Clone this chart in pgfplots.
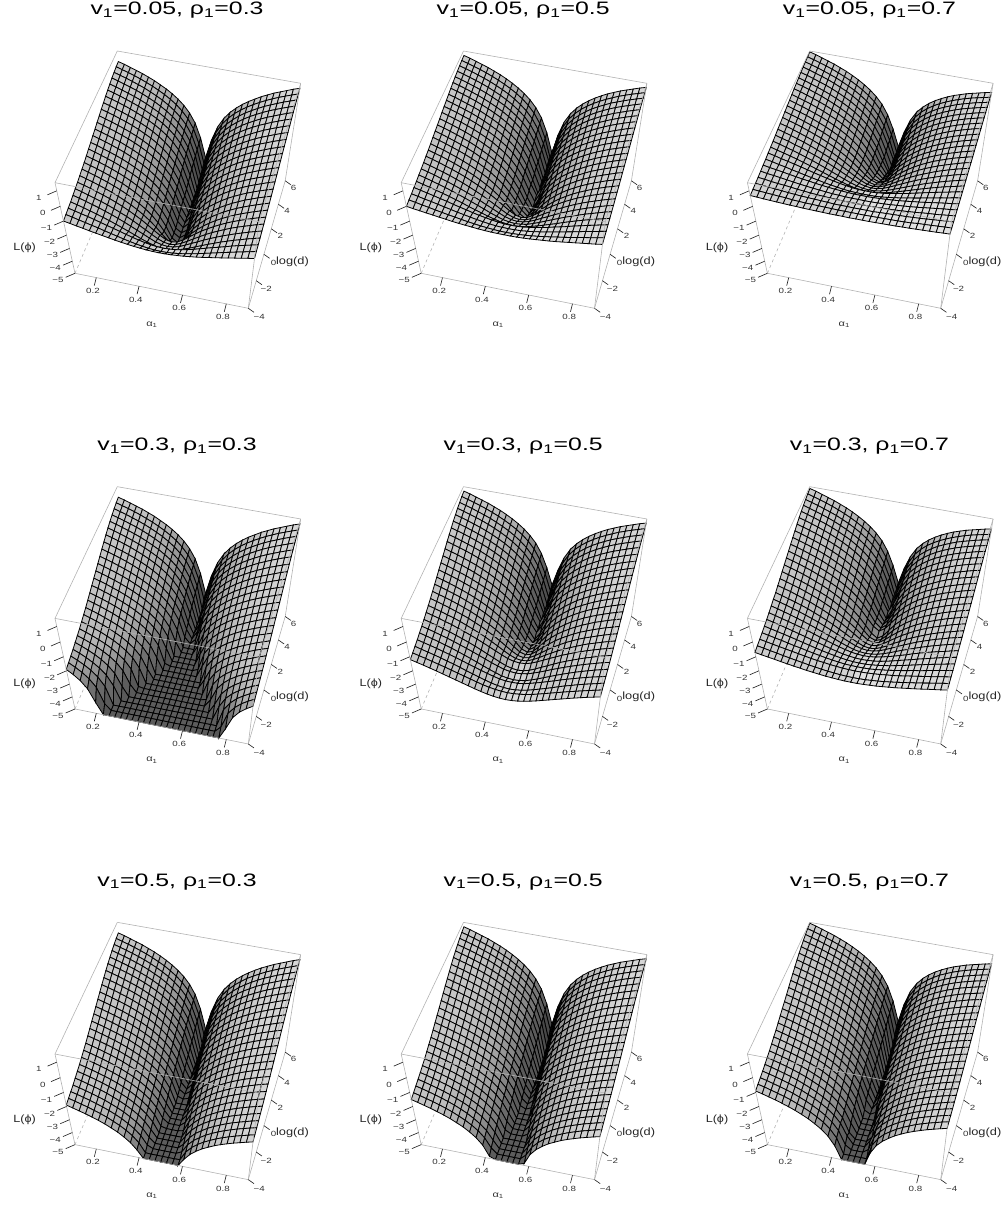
\documentclass[border=0pt]{standalone}
\usepackage{graphicx}
\usepackage{pgfplots}
\usepackage{pgfplotstable}
\usepackage{fontspec}
\setmainfont{Liberation Sans}
\pgfplotsset{compat=1.18}
% z values in hundredths; rows log(d)=6 ... -4 (step 0.4), columns alpha=0.1 ... 0.5 (step 0.8/30); floor -5
\pgfplotstableread[header=false]{
90 80 68 56 44 29 14 -5 -24 -47 -74 -107 -150 -210 -304 -438
87 76 65 53 40 25 9 -9 -29 -52 -79 -113 -156 -217 -312 -448
82 71 60 47 34 20 3 -15 -35 -59 -87 -121 -164 -226 -322 -460
77 66 54 42 29 14 -3 -21 -42 -66 -94 -128 -173 -235 -333 -472
70 59 47 34 21 6 -11 -30 -50 -75 -103 -138 -183 -246 -345 -486
63 52 40 27 13 -2 -19 -38 -59 -83 -112 -147 -193 -257 -357 -500
55 44 32 19 5 -11 -28 -47 -68 -93 -122 -158 -204 -269 -370 -500
46 35 22 9 -5 -20 -38 -57 -79 -104 -134 -170 -216 -282 -385 -500
37 25 13 -1 -14 -30 -48 -68 -89 -115 -145 -181 -229 -295 -399 -500
27 15 3 -11 -25 -41 -59 -79 -101 -127 -157 -194 -242 -309 -414 -500
18 6 -7 -20 -35 -51 -69 -89 -111 -138 -168 -205 -251 -318 -414 -500
8 -4 -17 -31 -45 -62 -80 -100 -123 -149 -180 -217 -265 -332 -429 -500
-1 -13 -26 -40 -55 -71 -90 -111 -133 -160 -192 -229 -277 -345 -443 -500
-11 -23 -37 -51 -66 -82 -101 -122 -145 -172 -204 -242 -290 -359 -458 -500
-20 -32 -46 -60 -75 -92 -111 -132 -155 -183 -215 -253 -302 -372 -472 -500
-30 -43 -56 -70 -86 -103 -122 -143 -167 -195 -225 -264 -314 -379 -470 -500
-39 -52 -65 -80 -95 -113 -132 -154 -177 -206 -236 -274 -322 -387 -470 -500
-47 -60 -74 -88 -104 -121 -140 -161 -185 -212 -243 -280 -326 -383 -446 -484
-55 -68 -81 -96 -111 -128 -147 -168 -191 -217 -247 -281 -320 -367 -410 -427
-63 -75 -88 -103 -118 -134 -152 -172 -194 -218 -243 -273 -304 -334 -358 -368
-70 -82 -96 -110 -124 -140 -158 -177 -197 -219 -244 -269 -295 -319 -337 -344
-77 -89 -102 -116 -130 -146 -162 -180 -199 -219 -240 -261 -282 -302 -314 -319
-84 -96 -108 -122 -135 -150 -165 -182 -199 -217 -235 -254 -270 -285 -294 -297
-89 -100 -111 -122 -134 -147 -160 -172 -185 -198 -211 -222 -232 -240 -245 -247
-94 -104 -115 -125 -136 -146 -158 -169 -180 -191 -201 -210 -218 -224 -228 -229
-100 -108 -117 -125 -134 -142 -150 -158 -166 -173 -179 -185 -189 -193 -195 -196
}\Tone
\pgfplotstableread[header=false]{
125 115 103 91 79 64 49 31 11 -12 -39 -72 -115 -175 -269 -403
123 112 101 89 76 61 45 27 7 -16 -43 -77 -120 -181 -276 -412
120 109 98 85 72 58 41 23 3 -21 -49 -82 -126 -188 -279 -395
116 105 93 81 68 53 36 18 -3 -27 -55 -88 -133 -196 -288 -406
112 101 89 76 63 48 31 12 -8 -33 -61 -95 -140 -204 -297 -417
107 96 84 71 57 42 25 6 -15 -39 -68 -103 -148 -213 -307 -428
102 91 79 66 52 36 19 0 -21 -46 -75 -110 -155 -218 -309 -407
96 85 72 59 45 30 12 -7 -29 -54 -84 -119 -164 -228 -321 -419
90 78 66 53 39 23 5 -15 -36 -62 -92 -127 -173 -238 -332 -431
84 72 60 46 32 16 -2 -22 -44 -70 -98 -134 -181 -242 -327 -401
78 66 53 40 25 9 -9 -29 -51 -78 -106 -143 -190 -252 -338 -412
71 59 46 32 18 1 -17 -37 -60 -86 -116 -153 -200 -263 -350 -425
65 53 40 26 11 -5 -24 -45 -67 -94 -123 -159 -206 -267 -347 -407
59 47 33 19 4 -12 -31 -52 -73 -99 -130 -166 -212 -271 -341 -388
53 41 27 13 -2 -18 -37 -57 -81 -106 -137 -172 -217 -272 -333 -370
46 33 21 6 -9 -26 -44 -65 -87 -113 -143 -178 -220 -271 -321 -350
40 27 15 0 -15 -32 -50 -70 -93 -118 -147 -181 -219 -265 -308 -324
35 23 10 -5 -19 -35 -52 -72 -93 -117 -142 -170 -201 -230 -254 -263
29 17 4 -10 -24 -40 -57 -76 -96 -117 -141 -165 -191 -215 -232 -239
24 12 0 -15 -28 -44 -60 -77 -95 -115 -136 -156 -177 -196 -208 -213
20 9 -4 -17 -30 -45 -60 -76 -93 -110 -128 -146 -162 -177 -185 -189
15 3 -8 -20 -32 -45 -59 -73 -89 -103 -117 -131 -143 -154 -160 -163
11 1 -9 -19 -30 -40 -52 -63 -73 -84 -94 -102 -110 -116 -120 -121
7 -2 -12 -20 -30 -40 -49 -59 -67 -76 -84 -91 -97 -102 -104 -105
4 -4 -13 -21 -30 -38 -46 -53 -61 -68 -74 -80 -84 -88 -90 -91
0 -7 -13 -19 -25 -31 -37 -43 -48 -52 -56 -60 -63 -65 -66 -66
}\Ttwo
\pgfplotstableread[header=false]{
145 135 123 111 99 84 69 51 31 8 -19 -52 -94 -155 -244 -357
144 133 122 110 97 82 66 48 28 5 -22 -55 -98 -160 -250 -364
142 131 120 107 94 80 63 45 25 1 -27 -60 -104 -166 -257 -373
140 129 117 105 92 77 60 42 21 -3 -31 -64 -107 -168 -256 -350
137 126 114 101 88 73 56 37 17 -8 -36 -70 -113 -175 -264 -359
134 123 111 98 84 69 52 33 12 -12 -41 -76 -120 -182 -272 -368
131 120 108 95 81 65 48 29 8 -17 -45 -80 -124 -183 -265 -336
128 117 104 91 77 62 44 25 3 -22 -49 -84 -127 -185 -261 -317
124 112 100 87 73 57 39 21 -1 -25 -54 -88 -132 -187 -254 -298
120 108 96 82 68 53 35 16 -6 -30 -59 -92 -135 -187 -245 -279
117 105 93 80 65 49 32 12 -9 -33 -62 -95 -134 -182 -230 -257
113 101 89 75 61 45 28 9 -13 -37 -64 -96 -132 -175 -216 -231
109 97 85 72 57 41 25 5 -15 -39 -65 -95 -127 -162 -191 -204
105 94 81 67 53 38 21 3 -17 -40 -64 -91 -120 -148 -171 -180
102 90 78 65 51 36 19 1 -17 -38 -61 -84 -109 -131 -148 -154
98 86 75 61 49 33 18 2 -16 -35 -55 -75 -95 -113 -124 -129
94 83 71 59 46 32 18 2 -14 -31 -48 -65 -81 -94 -103 -106
91 80 69 58 46 33 20 6 -8 -22 -36 -49 -61 -71 -76 -79
88 79 68 59 49 39 28 17 7 -3 -12 -21 -28 -34 -38 -38
84 76 66 58 48 39 30 21 13 4 -3 -10 -16 -20 -22 -23
82 74 68 61 54 47 40 35 28 23 18 14 11 8 6 6
79 72 67 61 55 49 43 38 33 29 25 21 19 17 16 16
76 71 65 60 57 52 47 43 39 36 33 31 29 27 27 27
74 70 66 62 58 54 51 48 46 44 42 40 37 37 37 36
72 69 66 63 60 58 53 51 49 48 47 46 45 44 44 44
70 68 65 63 61 59 57 56 54 53 52 51 50 50 50 49
}\Tthree
\pgfplotstableread[header=false]{
90 80 68 56 44 29 14 -5 -24 -47 -74 -107 -150 -210 -304 -438
85 74 63 51 38 23 7 -11 -31 -54 -81 -115 -158 -219 -314 -450
78 67 56 43 30 16 -1 -19 -39 -63 -91 -125 -168 -230 -326 -490
70 59 47 35 22 7 -10 -28 -49 -73 -101 -135 -180 -243 -340 -500
60 49 37 24 11 -4 -21 -40 -60 -85 -113 -148 -193 -256 -355 -500
50 39 27 14 0 -15 -32 -51 -72 -96 -125 -161 -207 -272 -372 -500
38 27 15 2 -12 -28 -45 -64 -85 -110 -139 -175 -222 -288 -390 -500
25 14 1 -12 -26 -41 -59 -78 -100 -125 -155 -191 -238 -305 -420 -500
12 0 -12 -25 -39 -55 -73 -93 -114 -140 -171 -207 -255 -323 -435 -500
-2 -14 -26 -40 -54 -70 -88 -108 -130 -156 -187 -224 -273 -341 -458 -500
-16 -28 -41 -54 -69 -85 -104 -124 -146 -173 -205 -243 -295 -373 -500 -500
-30 -42 -55 -69 -84 -101 -119 -140 -163 -191 -224 -266 -324 -426 -500 -500
-44 -56 -69 -84 -99 -116 -135 -156 -181 -210 -245 -290 -357 -500 -500 -500
-58 -70 -84 -98 -114 -132 -151 -173 -199 -230 -268 -319 -406 -500 -500 -500
-72 -85 -99 -114 -130 -148 -168 -191 -219 -251 -294 -354 -485 -500 -500 -500
-86 -100 -113 -129 -145 -164 -186 -210 -240 -277 -326 -410 -500 -500 -500 -500
-100 -114 -128 -145 -162 -181 -204 -230 -263 -304 -365 -500 -500 -500 -500 -500
-112 -126 -141 -158 -176 -198 -221 -251 -288 -338 -427 -500 -500 -500 -500 -500
-124 -139 -155 -172 -192 -214 -241 -274 -317 -385 -500 -500 -500 -500 -500 -500
-136 -152 -168 -188 -208 -234 -265 -304 -363 -492 -500 -500 -500 -500 -500 -500
-146 -162 -180 -201 -225 -253 -290 -343 -441 -500 -500 -500 -500 -500 -500 -500
-156 -174 -194 -217 -245 -281 -332 -424 -500 -500 -500 -500 -500 -500 -500 -500
-166 -185 -208 -235 -268 -312 -387 -500 -500 -500 -500 -500 -500 -500 -500 -500
-174 -196 -221 -252 -294 -358 -500 -500 -500 -500 -500 -500 -500 -500 -500 -500
-182 -207 -236 -275 -331 -454 -500 -500 -500 -500 -500 -500 -500 -500 -500 -500
-190 -219 -255 -309 -410 -500 -500 -500 -500 -500 -500 -500 -500 -500 -500 -500
}\Tfour
\pgfplotstableread[header=false]{
125 115 103 91 79 64 49 31 11 -12 -39 -72 -114 -175 -264 -377
121 110 99 87 74 59 43 25 5 -18 -45 -78 -121 -183 -273 -387
114 103 92 79 66 52 35 17 -3 -27 -55 -88 -132 -194 -285 -401
108 97 85 73 60 45 28 10 -11 -35 -63 -96 -141 -204 -296 -414
99 88 76 63 50 35 18 -1 -21 -46 -74 -108 -153 -217 -310 -430
90 79 67 54 40 25 8 -11 -32 -56 -85 -120 -164 -226 -316 -412
79 68 56 43 29 13 -4 -23 -44 -69 -98 -133 -178 -241 -332 -430
68 57 44 31 17 2 -16 -35 -57 -82 -110 -145 -190 -250 -333 -405
57 45 33 20 6 -10 -28 -48 -69 -95 -123 -159 -204 -265 -349 -422
44 32 20 6 -8 -24 -42 -62 -84 -110 -137 -173 -217 -277 -354 -412
32 20 7 -6 -21 -37 -55 -75 -97 -124 -152 -187 -232 -293 -371 -430
20 8 -5 -19 -33 -50 -68 -88 -109 -135 -165 -200 -245 -303 -371 -417
8 -4 -17 -31 -46 -62 -80 -100 -123 -148 -177 -212 -256 -309 -370 -405
-5 -17 -30 -44 -59 -75 -93 -113 -135 -161 -190 -224 -265 -315 -364 -392
-17 -29 -42 -56 -70 -87 -105 -125 -147 -172 -200 -233 -271 -315 -357 -373
-29 -42 -54 -68 -83 -99 -116 -136 -158 -182 -209 -240 -273 -309 -340 -353
-41 -53 -66 -80 -95 -110 -127 -147 -167 -191 -216 -244 -274 -303 -327 -336
-52 -64 -77 -91 -104 -120 -138 -156 -175 -196 -220 -244 -270 -293 -311 -317
-62 -74 -86 -100 -113 -129 -145 -162 -180 -200 -220 -241 -261 -280 -292 -296
-73 -85 -97 -112 -125 -141 -157 -174 -192 -212 -233 -253 -274 -293 -305 -310
-82 -93 -106 -119 -132 -147 -162 -178 -195 -212 -230 -248 -264 -279 -287 -291
-90 -102 -114 -127 -141 -155 -171 -187 -204 -222 -240 -258 -274 -289 -297 -301
-99 -111 -122 -134 -147 -160 -174 -188 -204 -218 -233 -246 -259 -270 -276 -278
-106 -118 -130 -141 -154 -168 -181 -196 -212 -227 -241 -255 -268 -278 -284 -287
-113 -124 -135 -147 -159 -171 -184 -197 -210 -223 -236 -248 -258 -265 -270 -272
-120 -131 -142 -154 -166 -179 -192 -205 -218 -231 -244 -256 -266 -274 -279 -281
}\Tfive
\pgfplotstableread[header=false]{
140 130 118 106 94 79 64 46 26 3 -24 -57 -99 -160 -249 -362
136 125 114 102 89 74 58 40 20 -3 -30 -63 -106 -168 -258 -372
131 120 109 96 83 69 52 34 14 -10 -38 -71 -115 -177 -268 -384
125 114 102 90 77 62 45 27 6 -18 -46 -79 -122 -183 -271 -365
118 107 95 82 69 54 37 18 -2 -27 -55 -89 -132 -194 -283 -378
110 99 87 74 60 45 28 9 -12 -36 -65 -100 -144 -206 -296 -392
101 90 78 65 51 35 18 -1 -22 -47 -75 -110 -154 -213 -295 -366
91 80 67 54 40 25 7 -12 -34 -59 -87 -122 -167 -227 -310 -382
81 69 57 44 30 14 -4 -24 -45 -71 -98 -133 -177 -236 -312 -370
71 59 47 33 19 3 -15 -35 -55 -80 -110 -144 -188 -244 -311 -356
60 48 35 22 7 -8 -26 -45 -68 -92 -121 -155 -198 -250 -310 -344
50 38 26 12 -2 -19 -36 -56 -77 -102 -131 -164 -204 -253 -301 -328
39 27 15 1 -14 -31 -48 -68 -90 -115 -144 -178 -218 -267 -316 -344
29 17 4 -10 -24 -41 -58 -77 -99 -124 -152 -185 -222 -266 -307 -323
18 6 -7 -20 -35 -51 -68 -88 -109 -133 -160 -190 -223 -259 -289 -302
8 -4 -16 -31 -45 -60 -78 -96 -117 -141 -165 -193 -222 -251 -275 -284
-3 -15 -28 -41 -55 -70 -88 -106 -125 -146 -170 -193 -219 -241 -259 -265
-11 -23 -35 -49 -62 -77 -93 -109 -128 -147 -167 -188 -208 -226 -238 -243
-20 -31 -43 -56 -69 -83 -98 -114 -131 -147 -165 -183 -199 -213 -221 -225
-29 -40 -52 -63 -75 -88 -101 -115 -131 -145 -159 -172 -184 -194 -200 -203
-37 -47 -58 -69 -81 -93 -105 -118 -130 -142 -155 -166 -176 -183 -188 -190
-45 -55 -65 -75 -85 -96 -107 -118 -129 -139 -149 -157 -165 -171 -175 -176
-52 -61 -70 -79 -89 -99 -107 -117 -126 -134 -142 -149 -155 -160 -162 -163
-58 -66 -75 -83 -91 -99 -107 -115 -123 -130 -135 -141 -145 -149 -151 -152
-64 -72 -81 -89 -98 -106 -114 -121 -129 -136 -142 -148 -152 -156 -158 -159
-70 -78 -85 -92 -100 -107 -114 -120 -127 -132 -137 -142 -145 -148 -150 -150
}\Tsix
\pgfplotstableread[header=false]{
90 80 68 56 44 29 14 -4 -24 -47 -74 -107 -150 -210 -304 -438
85 74 63 51 38 24 8 -10 -29 -53 -80 -113 -156 -216 -310 -445
78 67 56 44 31 17 1 -17 -37 -60 -88 -121 -164 -226 -323 -480
70 59 48 36 23 9 -7 -26 -45 -69 -97 -130 -174 -236 -336 -500
60 49 38 26 13 -2 -18 -36 -56 -79 -108 -141 -185 -248 -354 -500
50 39 28 16 3 -12 -28 -46 -66 -90 -118 -152 -196 -259 -365 -500
38 27 16 3 -10 -24 -40 -59 -79 -103 -131 -165 -209 -272 -379 -500
25 14 3 -10 -23 -37 -54 -72 -92 -116 -145 -179 -223 -286 -394 -500
12 1 -10 -23 -36 -51 -67 -86 -106 -130 -158 -192 -237 -301 -408 -500
-2 -13 -25 -37 -50 -65 -81 -100 -120 -144 -173 -207 -252 -316 -424 -500
-16 -27 -39 -51 -64 -79 -96 -114 -135 -159 -188 -222 -267 -331 -440 -500
-30 -41 -53 -65 -79 -93 -110 -129 -149 -173 -202 -237 -282 -346 -455 -500
-44 -55 -67 -79 -93 -108 -124 -143 -163 -188 -217 -252 -297 -362 -471 -500
-58 -69 -81 -94 -107 -122 -138 -157 -178 -202 -232 -266 -312 -377 -486 -500
-72 -83 -95 -108 -121 -136 -153 -172 -192 -217 -246 -281 -327 -392 -500 -500
-86 -97 -109 -122 -135 -150 -167 -186 -207 -231 -261 -296 -342 -407 -500 -500
-100 -111 -123 -136 -149 -165 -181 -201 -221 -246 -276 -312 -359 -429 -500 -500
-112 -123 -135 -148 -162 -177 -194 -213 -234 -259 -289 -326 -374 -445 -500 -500
-124 -135 -147 -160 -174 -189 -206 -225 -246 -273 -302 -339 -389 -465 -500 -500
-136 -147 -159 -172 -186 -201 -218 -238 -260 -286 -317 -355 -406 -489 -500 -500
-146 -157 -169 -182 -196 -212 -229 -250 -272 -298 -329 -368 -421 -500 -500 -500
-156 -167 -180 -193 -206 -222 -241 -261 -284 -310 -341 -382 -439 -500 -500 -500
-166 -177 -190 -203 -217 -233 -252 -272 -295 -323 -354 -397 -459 -500 -500 -500
-174 -185 -198 -211 -226 -242 -260 -281 -304 -333 -366 -410 -478 -500 -500 -500
-182 -194 -207 -220 -235 -251 -269 -291 -314 -342 -377 -424 -498 -500 -500 -500
-190 -202 -215 -228 -243 -259 -277 -299 -322 -352 -388 -438 -500 -500 -500 -500
}\Tseven
\pgfplotstableread[header=false]{
125 115 103 91 79 64 49 31 11 -12 -39 -72 -115 -175 -269 -403
120 109 98 86 73 59 43 25 6 -18 -45 -78 -121 -181 -275 -410
113 102 91 79 66 52 36 18 -2 -25 -53 -86 -129 -191 -288 -445
105 94 83 71 58 44 28 9 -10 -34 -62 -95 -139 -201 -301 -472
96 85 74 62 49 34 18 0 -20 -43 -72 -105 -149 -212 -318 -500
86 75 64 52 39 24 8 -10 -30 -54 -82 -116 -160 -223 -329 -500
74 63 52 39 26 12 -4 -23 -43 -67 -95 -129 -173 -236 -343 -500
61 50 39 26 13 -1 -18 -36 -56 -80 -109 -143 -187 -250 -358 -500
48 37 26 13 0 -15 -31 -50 -70 -94 -122 -156 -201 -265 -372 -500
35 24 12 0 -13 -28 -44 -63 -83 -107 -136 -170 -215 -279 -387 -500
21 10 -2 -14 -27 -42 -59 -77 -98 -122 -151 -185 -230 -294 -403 -500
7 -4 -16 -28 -42 -56 -73 -92 -112 -136 -165 -200 -245 -309 -418 -500
-7 -18 -30 -42 -56 -71 -87 -106 -126 -151 -180 -215 -260 -325 -434 -500
-20 -31 -43 -56 -69 -84 -100 -119 -140 -164 -194 -228 -274 -339 -448 -500
-34 -45 -57 -70 -83 -98 -115 -134 -154 -179 -208 -243 -289 -354 -464 -500
-48 -59 -71 -84 -97 -112 -129 -148 -169 -193 -223 -258 -304 -369 -480 -500
-62 -73 -85 -98 -111 -127 -143 -163 -183 -208 -238 -274 -321 -391 -500 -500
-73 -84 -96 -109 -123 -138 -155 -174 -195 -220 -250 -287 -335 -406 -500 -500
-85 -96 -108 -121 -135 -150 -167 -186 -207 -234 -263 -300 -350 -426 -500 -500
-97 -108 -120 -133 -147 -162 -179 -199 -221 -247 -278 -316 -367 -450 -500 -500
-107 -118 -130 -143 -157 -173 -190 -211 -233 -259 -290 -329 -382 -475 -500 -500
-117 -128 -141 -154 -167 -183 -202 -222 -245 -271 -302 -343 -400 -500 -500 -500
-126 -137 -150 -163 -177 -193 -212 -232 -255 -283 -314 -357 -419 -500 -500 -500
-134 -145 -158 -171 -186 -202 -220 -241 -264 -293 -326 -370 -438 -500 -500 -500
-142 -154 -167 -180 -195 -211 -229 -251 -274 -302 -337 -384 -458 -500 -500 -500
-150 -162 -175 -188 -203 -219 -237 -259 -282 -312 -348 -398 -482 -500 -500 -500
}\Teight
\pgfplotstableread[header=false]{
145 135 123 111 99 84 69 51 31 8 -19 -52 -95 -155 -249 -383
141 130 119 107 94 80 64 46 27 3 -24 -57 -100 -160 -254 -389
135 124 113 101 88 74 58 40 20 -3 -31 -64 -107 -169 -266 -423
128 117 106 94 81 67 51 32 13 -11 -39 -72 -116 -178 -278 -449
120 109 98 86 73 58 42 24 4 -19 -48 -81 -125 -188 -294 -500
111 100 89 77 64 49 33 15 -5 -29 -57 -91 -135 -198 -304 -500
101 90 79 66 53 39 23 4 -16 -40 -68 -102 -146 -209 -316 -500
90 79 68 55 42 28 11 -7 -27 -51 -80 -114 -158 -221 -329 -500
79 68 57 44 31 16 0 -19 -39 -63 -91 -125 -170 -234 -341 -500
68 57 45 33 20 5 -11 -30 -50 -74 -103 -137 -182 -246 -354 -500
56 45 33 21 8 -7 -24 -42 -63 -87 -116 -150 -195 -259 -368 -500
44 33 21 9 -5 -19 -36 -55 -75 -99 -128 -163 -208 -272 -381 -500
32 21 9 -3 -17 -32 -48 -67 -87 -112 -141 -176 -221 -286 -395 -500
21 10 -2 -15 -28 -43 -59 -78 -99 -123 -153 -187 -233 -298 -407 -500
9 -2 -14 -27 -40 -55 -72 -91 -111 -136 -165 -200 -246 -311 -421 -500
-3 -14 -26 -39 -52 -67 -84 -103 -124 -148 -178 -213 -259 -324 -435 -500
-15 -26 -38 -51 -64 -80 -96 -116 -136 -161 -191 -227 -274 -344 -475 -500
-24 -35 -47 -60 -74 -89 -106 -125 -146 -171 -201 -238 -286 -357 -500 -500
-35 -46 -58 -71 -85 -100 -117 -136 -157 -184 -213 -250 -300 -376 -500 -500
-45 -56 -68 -81 -95 -110 -127 -147 -169 -195 -226 -264 -315 -398 -500 -500
-53 -64 -76 -89 -103 -119 -136 -157 -179 -205 -236 -275 -328 -421 -500 -500
-62 -73 -86 -99 -112 -128 -147 -167 -190 -216 -247 -288 -345 -453 -500 -500
-70 -81 -93 -106 -120 -136 -153 -174 -196 -222 -253 -292 -345 -438 -500 -500
-77 -88 -101 -114 -127 -143 -162 -182 -205 -231 -262 -303 -360 -468 -500 -500
-83 -94 -107 -120 -134 -150 -169 -189 -212 -240 -271 -314 -376 -500 -500 -500
-90 -101 -114 -127 -142 -158 -176 -197 -220 -249 -282 -326 -394 -500 -500 -500
}\Tnine
\newcommand\buildcoords[2]{% table, tilt of the right half
 \foreach \c in {0,...,15}{%
  \pgfplotstableforeachcolumnelement{[index]\c}\of#1\as\cell{%
   \expandafter\xdef\csname zz\pgfplotstablerow x\c\endcsname{\cell}}}%
 \gdef\coords{}%
 \foreach \j in {0,...,25}{%
  \foreach \i in {0,...,30}{%
   \edef\h{\ifnum\i>15 \the\numexpr30-\i\relax\else\i\fi}%
   \edef\hp{\ifnum\h=0 1\else\the\numexpr\h-1\relax\fi}%
   \edef\zc{\csname zz\j x\h\endcsname}%
   \edef\zn{\csname zz\j x\hp\endcsname}%
   \pgfmathsetmacro\u{\i/30}%
   \pgfmathsetmacro\v{1-\j/25}%
   \pgfmathsetmacro\z{\zc/100}%
   \ifnum\i>15 \ifnum\zc>-495 \pgfmathsetmacro\z{\z+#2*(\i-15)/15*\v}\fi\fi
   \pgfmathsetmacro\w{(\z+5)/6.5}%
   \pgfmathsetmacro\den{1-.02*\u+.1*\v-.15*\w}%
   \pgfmathsetmacro\X{(75+168.3*\u+64.7*\v-28.25*\w)/\den}%
   \pgfmathsetmacro\Y{(273.3+28.8*\u-106.85*\v-118*\w)/\den}%
   \pgfmathsetmacro\s{abs(\zc-\zn)*.035}%
   \ifnum\i>15 \def\base{.76}\else\def\base{.7}\fi
   \pgfmathsetmacro\g{.12+\base/sqrt(1+\s*\s)}%
   \ifnum\zc<-495 \def\g{.36}\fi
   \xdef\coords{\unexpanded\expandafter{\coords}(\X,\Y,0) [\g] }%
  }}%
}
\newcommand\plotsurf[1]{\addplot3[surf,shader=faceted,faceted color=black,line width=.8pt,mesh/rows=26,mesh/cols=31,point meta=explicit,z buffer=none] coordinates {#1};}
\newcommand\seg[4]{\addplot3[boxl] coordinates {(#1,#2,0) (#3,#4,0)};}
\newcommand\tk[4]{\addplot3[tickl] coordinates {(#1,#2,0) (#3,#4,0)};}
\pgfplotsset{boxl/.style={color=black!30,line width=.6pt,no markers},tickl/.style={color=black!85,line width=.65pt,no markers},
 panel/.style={anchor=north west,width=340pt,height=340pt,scale only axis,xmin=0,xmax=340,ymin=0,ymax=340,y dir=reverse,view={0}{90},hide axis,clip=false,
 colormap={gr}{gray(0cm)=(0); gray(1cm)=(1)},point meta min=0,point meta max=1}}
\newcommand\tl[3]{\node[font=\fontsize{7.5}{8}\selectfont,text=black!80,inner sep=0pt] at (axis cs:#1,#2) {\scalebox{1.3}[1]{#3}};}
\newcommand\panel[5]{% col offset,row offset,table,tilt,title
 \buildcoords{#3}{#4}%
 \begin{axis}[panel,at={(#1pt,-#2pt)}]
 \addplot3[boxl,dashed] coordinates {(75,273.3,0) (127,151.3,0)};
 \expandafter\plotsurf\expandafter{\coords}
 \seg{55}{182.7}{117.3}{51}\seg{117.3}{51}{300.7}{83.3}\seg{300.7}{83.3}{285.2}{180.8}\seg{285.2}{180.8}{248.3}{308.3}
 \seg{248.3}{308.3}{75}{273.3}\seg{75}{273.3}{55}{182.7}\seg{55}{182.7}{259.1}{221.8}\seg{259.1}{221.8}{300.7}{83.3}\seg{259.1}{221.8}{248.3}{308.3}
 \tk{56.8}{190.8}{47.5}{194.8}\tk{60.3}{206.3}{51}{210.3}\tk{63.5}{221.1}{54.2}{225.1}\tk{66.6}{235.1}{57.3}{239.1}\tk{69.5}{248.4}{60.2}{252.4}\tk{72.3}{261.2}{63}{265.2}\tk{75}{273.3}{65.7}{277.3}
 \tk{96.3}{277.6}{94.3}{285.6}\tk{139.1}{286.2}{137.1}{294.2}\tk{182.5}{295}{180.5}{303}\tk{226.3}{303.8}{224.3}{311.8}
 \tk{248.3}{308.3}{254}{312.3}\tk{256.2}{280.7}{261.9}{284.7}\tk{263.9}{254.3}{269.6}{258.3}\tk{271.3}{228.8}{277}{232.8}\tk{278.4}{204.3}{284.1}{208.3}\tk{285.2}{180.8}{290.9}{184.8}
 \tl{38.8}{197.8}{1}\tl{42.8}{213.3}{0}\tl{46.5}{228.1}{−1}\tl{49.6}{242.1}{−2}\tl{52.5}{255.4}{−3}\tl{55.3}{268.2}{−4}\tl{58}{280.3}{−5}
 \tl{93}{291}{0.2}\tl{135.8}{299.6}{0.4}\tl{179.2}{308.4}{0.6}\tl{223}{317.2}{0.8}
 \tl{259.3}{317.3}{−4}\tl{266.2}{289.2}{−2}\tl{273.5}{262.8}{0}\tl{280.3}{236.2}{2}\tl{287.2}{211.2}{4}\tl{293.5}{188}{6}
 \node[font=\fontsize{8.5}{9}\selectfont,text=black!80,inner sep=0pt] at (axis cs:152,324.5) {\scalebox{1.3}[1]{α\textsubscript{1}}};
 \node[font=\fontsize{10.5}{11}\selectfont,text=black!85,inner sep=0pt] at (axis cs:24.6,248) {\scalebox{1.2}[1]{L(ϕ)}};
 \node[font=\fontsize{10.5}{11}\selectfont,text=black!85,inner sep=0pt] at (axis cs:292.5,261.5) {\scalebox{1.22}[1]{log(d)}};
 \node[font=\fontsize{18}{19}\selectfont,inner sep=0pt] at (axis cs:177,10.5) {\scalebox{1.38}[1]{#5}};
 \end{axis}}
\begin{document}
\begin{tikzpicture}
\useasboundingbox (0,0) rectangle (1003pt,-1207pt);
\panel{0}{0}{\Tone}{.3}{v\textsubscript{1}=0.05, ρ\textsubscript{1}=0.3}
\panel{346.2}{0}{\Ttwo}{0}{v\textsubscript{1}=0.05, ρ\textsubscript{1}=0.5}
\panel{692.4}{0}{\Tthree}{-.5}{v\textsubscript{1}=0.05, ρ\textsubscript{1}=0.7}
\panel{0}{435.67}{\Tfour}{.3}{v\textsubscript{1}=0.3, ρ\textsubscript{1}=0.3}
\panel{346.2}{435.67}{\Tfive}{0}{v\textsubscript{1}=0.3, ρ\textsubscript{1}=0.5}
\panel{692.4}{435.67}{\Tsix}{-.5}{v\textsubscript{1}=0.3, ρ\textsubscript{1}=0.7}
\panel{0}{871.33}{\Tseven}{.3}{v\textsubscript{1}=0.5, ρ\textsubscript{1}=0.3}
\panel{346.2}{871.33}{\Teight}{0}{v\textsubscript{1}=0.5, ρ\textsubscript{1}=0.5}
\panel{692.4}{871.33}{\Tnine}{-.5}{v\textsubscript{1}=0.5, ρ\textsubscript{1}=0.7}
\end{tikzpicture}
\end{document}
